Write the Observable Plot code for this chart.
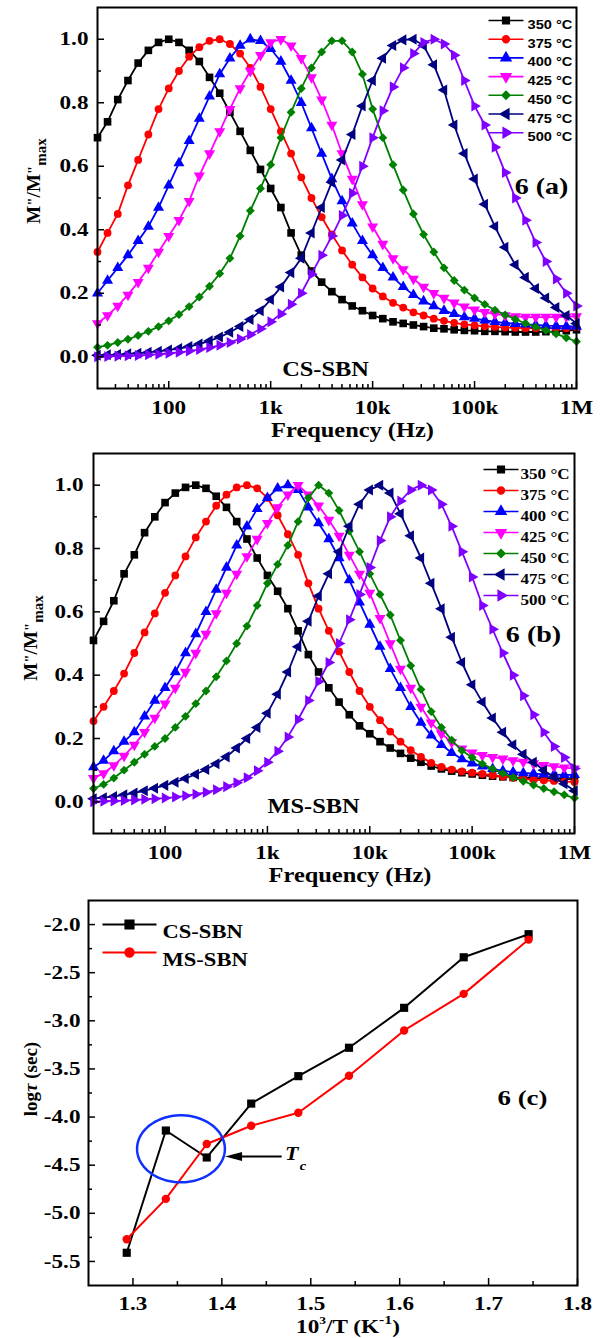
<!DOCTYPE html>
<html><head><meta charset="utf-8">
<script src="https://cdn.jsdelivr.net/npm/d3@7"></script>
<script src="https://cdn.jsdelivr.net/npm/@observablehq/plot@0.6"></script>
<style>
body{margin:0;background:#fff;}
#wrap{position:relative;width:601px;height:1338px;overflow:hidden;background:#fff;}
#wrap svg{position:absolute;left:0;}
</style></head><body><div id="wrap"></div>
<script>
// ---------- data ----------
const freqHz = [20,25.1,31.6,39.8,50.1,63.1,79.4,
  100,125.9,158.5,199.5,251.2,316.2,398.1,501.2,631,794.3,
  1000,1259,1585,1995,2512,3162,3981,5012,6310,7943,
  10000,12589,15849,19953,25119,31623,39811,50119,63096,79433,
  100000,125893,158489,199526,251189,316228,398107,501187,630957,794328,1000000];
const tempLabels = ["350 °C","375 °C","400 °C","425 °C","450 °C","475 °C","500 °C"];

// CS-SBN  M''/M''max  (panel a)
const cs350 = [0.69,0.74,0.81,0.87,0.925,0.965,0.99,1.0,0.99,0.965,0.93,0.88,0.83,0.77,0.71,0.65,0.59,0.53,0.47,0.39,0.32,0.27,0.235,0.205,0.18,0.16,0.145,0.13,0.12,0.11,0.105,0.1,0.095,0.09,0.088,0.085,0.083,0.082,0.08,0.08,0.079,0.078,0.078,0.078,0.079,0.08,0.082,0.085];
const cs375 = [0.33,0.39,0.45,0.54,0.62,0.70,0.78,0.845,0.9,0.945,0.975,0.995,1.0,0.985,0.955,0.91,0.85,0.78,0.71,0.64,0.565,0.5,0.44,0.385,0.335,0.29,0.25,0.215,0.19,0.17,0.155,0.14,0.13,0.12,0.113,0.107,0.102,0.099,0.096,0.094,0.092,0.091,0.09,0.09,0.09,0.09,0.09,0.092];
const cs400 = [0.20,0.24,0.28,0.32,0.365,0.41,0.47,0.54,0.61,0.68,0.75,0.82,0.89,0.94,0.98,1.0,0.995,0.97,0.93,0.87,0.80,0.72,0.64,0.56,0.49,0.42,0.365,0.32,0.28,0.25,0.22,0.195,0.175,0.16,0.145,0.135,0.125,0.12,0.115,0.11,0.107,0.104,0.102,0.1,0.098,0.097,0.096,0.095];
const cs425 = [0.105,0.13,0.16,0.195,0.235,0.28,0.33,0.38,0.43,0.49,0.57,0.64,0.71,0.78,0.845,0.9,0.95,0.99,1.0,0.98,0.94,0.88,0.81,0.73,0.64,0.56,0.48,0.41,0.355,0.31,0.275,0.245,0.22,0.2,0.185,0.17,0.158,0.148,0.14,0.135,0.13,0.127,0.125,0.125,0.125,0.125,0.126,0.127];
const cs450 = [0.03,0.036,0.045,0.055,0.067,0.08,0.095,0.113,0.133,0.158,0.188,0.222,0.262,0.31,0.38,0.46,0.53,0.605,0.69,0.77,0.845,0.91,0.96,0.995,0.995,0.96,0.89,0.78,0.69,0.605,0.525,0.45,0.385,0.33,0.28,0.24,0.21,0.185,0.165,0.147,0.132,0.118,0.105,0.094,0.083,0.072,0.06,0.048];
const cs475 = [0.005,0.006,0.007,0.009,0.011,0.014,0.017,0.021,0.026,0.032,0.04,0.05,0.062,0.077,0.095,0.117,0.145,0.18,0.22,0.265,0.31,0.39,0.47,0.55,0.62,0.7,0.79,0.87,0.94,0.98,0.998,1.0,0.98,0.92,0.84,0.73,0.64,0.56,0.48,0.41,0.345,0.29,0.25,0.215,0.185,0.155,0.13,0.105];
const cs500 = [0.0,0.001,0.002,0.003,0.004,0.006,0.008,0.011,0.014,0.018,0.023,0.029,0.036,0.045,0.056,0.07,0.088,0.11,0.135,0.165,0.2,0.26,0.32,0.38,0.445,0.515,0.6,0.69,0.775,0.85,0.91,0.955,0.99,1.0,0.985,0.95,0.87,0.79,0.73,0.66,0.58,0.5,0.43,0.36,0.3,0.245,0.2,0.16];

// MS-SBN  M''/M''max  (panel b)
const ms350 = [0.51,0.57,0.635,0.72,0.78,0.85,0.9,0.945,0.975,0.993,1.0,0.99,0.965,0.93,0.885,0.83,0.77,0.715,0.665,0.61,0.54,0.465,0.41,0.36,0.315,0.275,0.24,0.215,0.19,0.17,0.153,0.138,0.125,0.113,0.104,0.097,0.092,0.088,0.084,0.081,0.079,0.077,0.076,0.075,0.074,0.073,0.072,0.072];
const ms375 = [0.255,0.3,0.35,0.405,0.47,0.535,0.595,0.66,0.715,0.775,0.835,0.885,0.935,0.97,0.993,1.0,0.99,0.96,0.905,0.845,0.78,0.69,0.61,0.54,0.475,0.41,0.35,0.3,0.258,0.222,0.19,0.163,0.142,0.123,0.11,0.102,0.096,0.092,0.088,0.084,0.08,0.076,0.072,0.07,0.068,0.066,0.064,0.063];
const ms400 = [0.11,0.13,0.16,0.19,0.22,0.27,0.32,0.36,0.41,0.47,0.53,0.6,0.67,0.74,0.81,0.87,0.925,0.96,0.99,1.0,0.985,0.93,0.88,0.83,0.77,0.7,0.63,0.56,0.49,0.42,0.36,0.3,0.25,0.21,0.18,0.155,0.135,0.122,0.112,0.104,0.098,0.094,0.091,0.089,0.087,0.086,0.085,0.085];
const ms425 = [0.075,0.09,0.115,0.145,0.18,0.22,0.265,0.31,0.36,0.41,0.47,0.53,0.595,0.66,0.72,0.775,0.83,0.88,0.93,0.97,1.0,0.97,0.935,0.89,0.84,0.78,0.72,0.66,0.58,0.5,0.42,0.36,0.3,0.25,0.215,0.188,0.168,0.155,0.147,0.141,0.136,0.131,0.126,0.121,0.116,0.112,0.108,0.105];
const ms450 = [0.042,0.055,0.075,0.1,0.125,0.15,0.175,0.2,0.235,0.27,0.31,0.35,0.395,0.445,0.5,0.555,0.62,0.69,0.75,0.81,0.885,0.96,1.0,0.975,0.92,0.855,0.79,0.72,0.655,0.59,0.51,0.43,0.355,0.285,0.235,0.195,0.162,0.14,0.12,0.104,0.09,0.077,0.065,0.053,0.042,0.032,0.022,0.012];
const ms475 = [0.01,0.013,0.017,0.022,0.028,0.035,0.043,0.052,0.062,0.074,0.087,0.102,0.12,0.142,0.17,0.2,0.235,0.28,0.34,0.41,0.49,0.57,0.65,0.72,0.79,0.87,0.94,0.985,1.0,0.975,0.91,0.84,0.77,0.69,0.61,0.52,0.44,0.37,0.315,0.265,0.22,0.18,0.15,0.125,0.1,0.078,0.057,0.035];
const ms500 = [0.0,0.002,0.003,0.004,0.006,0.008,0.01,0.012,0.015,0.019,0.024,0.03,0.038,0.048,0.06,0.076,0.098,0.125,0.16,0.205,0.26,0.32,0.38,0.44,0.5,0.575,0.655,0.74,0.825,0.9,0.95,0.985,1.0,0.985,0.94,0.87,0.79,0.71,0.62,0.545,0.47,0.4,0.335,0.275,0.22,0.175,0.14,0.105];

// panel c: log(tau) vs 1000/T
const invT = [1.293,1.337,1.383,1.433,1.486,1.543,1.605,1.672,1.745];
const csLogTau = [-5.41,-4.14,-4.42,-3.86,-3.575,-3.28,-2.865,-2.34,-2.10];
const msLogTau = [-5.27,-4.85,-4.28,-4.09,-3.955,-3.57,-3.10,-2.72,-2.156];
const sampleNames = ["CS-SBN","MS-SBN"];

// tick values / labels
const freqMajor = [100,1000,10000,100000,1000000];
const freqLabels = ["100","1k","10k","100k","1M"];
const freqMinor = [10,100,1000,10000,100000].flatMap(d => [2,3,4,5,6,7,8,9].map(m => m*d)).filter(v => v > 20);
const mMajor = [0,0.2,0.4,0.6,0.8,1.0];
const mMinor = [0.1,0.3,0.5,0.7,0.9];
const cxMajor = [1.3,1.4,1.5,1.6,1.7,1.8];
const cxMinor = [1.35,1.45,1.55,1.65,1.75];
const cyMajor = [-2,-2.5,-3,-3.5,-4,-4.5,-5,-5.5];
const cyMinor = [-2.25,-2.75,-3.25,-3.75,-4.25,-4.75,-5.25];

// ---------- styles ----------
const serif = "'Liberation Serif','Times New Roman',serif";
const sans = "'Liberation Sans',Arial,sans-serif";
const STRETCH = 1.22;
const colors = ["#000000","#ff0000","#0000ff","#ff00ff","#008000","#000080","#8000ff"];
const sq3 = Math.sqrt(3);
function tri(dir) {
  return {draw(ctx, size) {
    const y = -Math.sqrt(size / (sq3 * 3));
    const pts = [[0, y * 2], [-sq3 * y, -y], [sq3 * y, -y]];
    const t = {up: ([a, b]) => [a, b], down: ([a, b]) => [a, -b], left: ([a, b]) => [b, a], right: ([a, b]) => [-b, a]}[dir];
    const p = pts.map(t);
    ctx.moveTo(p[0][0], p[0][1]); ctx.lineTo(p[1][0], p[1][1]); ctx.lineTo(p[2][0], p[2][1]); ctx.closePath();
  }};
}
const symbols = [d3.symbolSquare, d3.symbolCircle, tri("up"), tri("down"), d3.symbolDiamond2, tri("left"), tri("right")];
const markerR = [4.3, 3.9, 4.1, 4.1, 4.0, 4.1, 4.1];
const legendR = [3.7, 3.4, 3.6, 3.6, 3.5, 3.6, 3.6];
function withLine(sym, half) {
  return {draw(ctx, size) { ctx.moveTo(-half, 0); ctx.lineTo(half, 0); sym.draw(ctx, size); }};
}
const boldSerif = (size) => ({fontSize: size, fontWeight: "bold", fontFamily: serif, fill: "black"});

function spectrumPanel(cfg) {
  const marks = [];
  cfg.series.forEach((vals, k) => {
    const data = freqHz.map((f, i) => ({f, v: vals[i]}));
    marks.push(Plot.line(data, {x: "f", y: "v", stroke: colors[k], strokeWidth: 1.8}));
    marks.push(Plot.dot(data, {x: "f", y: "v", symbol: symbols[k], r: markerR[k], fill: colors[k], stroke: "none"}));
  });
  marks.push(Plot.axisX(freqMajor, {tickSize: -7, tickPadding: 19, strokeWidth: 1.5, tickFormat: d => freqLabels[freqMajor.indexOf(d)], ...boldSerif(19), label: null}));
  marks.push(Plot.axisX(freqMinor, {tickSize: -4, strokeWidth: 1.5, fill: "none", label: null}));
  marks.push(Plot.axisY(mMajor, {tickSize: -7, tickPadding: cfg.yPad, strokeWidth: 1.5, tickFormat: d => d.toFixed(1), ...boldSerif(19), label: null}));
  marks.push(Plot.axisY(mMinor, {tickSize: -4, strokeWidth: 1.5, fill: "none", label: null}));
  marks.push(Plot.frame({stroke: "black", strokeWidth: 2}));
  tempLabels.forEach((t, k) => {
    const dy = cfg.legDy0 + k * cfg.legStep;
    marks.push(Plot.dot([t], {frameAnchor: "top-right", dx: cfg.legDx, dy, symbol: withLine(symbols[k], 17.5), r: legendR[k], fill: colors[k], stroke: colors[k], strokeWidth: 1.6}));
    marks.push(Plot.text([t], {frameAnchor: "top-right", dx: cfg.legTextDx, dy, text: d => d, textAnchor: "start", fontSize: cfg.legSize, fontWeight: "bold", fontFamily: cfg.legFont, fill: "black"}));
  });
  marks.push(Plot.text([cfg.tag], {frameAnchor: "top-right", dx: cfg.tagDx, dy: cfg.tagDy, text: d => d, textAnchor: "middle", ...boldSerif(23)}));
  marks.push(Plot.text([cfg.sample], {frameAnchor: "top-left", dx: cfg.sampleDx, dy: cfg.sampleDy, text: d => d, textAnchor: "middle", ...boldSerif(20)}));
  marks.push(Plot.text(["Frequency (Hz)"], {frameAnchor: "bottom", dx: cfg.xtDx, dy: cfg.xtDy, text: d => d, textAnchor: "middle", ...boldSerif(20)}));
  return Plot.plot({
    width: 601, height: cfg.height,
    marginTop: cfg.mt, marginBottom: cfg.mb, marginLeft: cfg.ml, marginRight: cfg.mr,
    x: {type: "log", domain: [20, 1e6], axis: null},
    y: {domain: [-0.1, 1.1], axis: null},
    style: {background: "transparent", overflow: "visible", fontFamily: serif},
    marks
  });
}

function addText(svg, {x, y, rotate = 0, anchor = "middle", size, parts}) {
  const t = d3.select(svg).append("text")
    .attr("transform", `translate(${x},${y})` + (rotate ? ` rotate(${rotate})` : ""))
    .attr("text-anchor", anchor).attr("dominant-baseline", "central")
    .attr("font-family", serif).attr("font-weight", "bold").attr("font-size", size).attr("fill", "black");
  parts.forEach(p => {
    const s = t.append("tspan").text(p.text);
    if (p.size) s.attr("font-size", p.size);
    if (p.shift) s.attr("baseline-shift", p.shift);
    if (p.italic) s.attr("font-style", "italic");
  });
}

function stretchTexts(svg) {
  svg.querySelectorAll("text").forEach(t => {
    let tr = t.getAttribute("transform") || "";
    if (tr.includes("rotate")) return;
    if (!tr) {
      const x = +(t.getAttribute("x") || 0), y = +(t.getAttribute("y") || 0);
      t.removeAttribute("x"); t.removeAttribute("y");
      tr = `translate(${x},${y})`;
    }
    t.setAttribute("transform", `${tr} scale(${STRETCH},1)`);
  });
}

const wrap = document.getElementById("wrap");

// ---------- panel (a) ----------
const chartA = spectrumPanel({
  series: [cs350, cs375, cs400, cs425, cs450, cs475, cs500],
  height: 448, mt: 7, mb: 60, ml: 97, mr: 25, yPad: 16,
  legDx: -70.5, legTextDx: -49, legDy0: 13, legStep: 18.7, legSize: 12, legFont: sans,
  tag: "6 (a)", tagDx: -35, tagDy: 170,
  sample: sampleNames[0], sampleDx: 228, sampleDy: 354,
  xtDx: 15.5, xtDy: 48
});
chartA.style.top = "0px";
wrap.appendChild(chartA);
addText(chartA, {x: 33, y: 181, rotate: -90, size: 19, parts: [
  {text: "M"}, {text: "\"", size: 15}, {text: "/M"}, {text: "\"", size: 15}, {text: "max", size: 15, shift: "sub"}]});

// ---------- panel (b) ----------
const chartB = spectrumPanel({
  series: [ms350, ms375, ms400, ms425, ms450, ms475, ms500],
  height: 445, mt: 13, mb: 52, ml: 93, mr: 27, yPad: 17,
  legDx: -73.5, legTextDx: -54, legDy0: 16, legStep: 21, legSize: 14, legFont: serif,
  tag: "6 (b)", tagDx: -41, tagDy: 172,
  sample: sampleNames[1], sampleDx: 220, sampleDy: 345,
  xtDx: 16, xtDy: 48
});
chartB.style.top = "440px";
wrap.appendChild(chartB);
addText(chartB, {x: 30, y: 198, rotate: -90, size: 19, parts: [
  {text: "M"}, {text: "\"", size: 15}, {text: "/M"}, {text: "\"", size: 15}, {text: "max", size: 15, shift: "sub"}]});

// ---------- panel (c) ----------
const csData = invT.map((t, i) => ({t, v: csLogTau[i]}));
const msData = invT.map((t, i) => ({t, v: msLogTau[i]}));
const tcEllipse = {cx: 1.354, cy: -4.33, rx: 0.0494, ry: 0.348};
const ellipsePts = d3.range(0, 361, 4).map(a => ({
  x: tcEllipse.cx + tcEllipse.rx * Math.cos(a * Math.PI / 180),
  y: tcEllipse.cy + tcEllipse.ry * Math.sin(a * Math.PI / 180)}));
const tcArrow = {tail: 1.4678, tip: 1.4036, y: -4.41};
const arrowHead = {draw(ctx) { ctx.moveTo(0, 0); ctx.lineTo(17, -4.5); ctx.lineTo(17, 4.5); ctx.closePath(); }};

const chartC = Plot.plot({
  width: 601, height: 458, marginTop: 20, marginBottom: 53, marginLeft: 88, marginRight: 24,
  x: {domain: [1.25, 1.8], axis: null},
  y: {domain: [-5.75, -1.75], axis: null},
  style: {background: "transparent", overflow: "visible", fontFamily: serif},
  marks: [
    Plot.line(csData, {x: "t", y: "v", stroke: "black", strokeWidth: 2}),
    Plot.dot(csData, {x: "t", y: "v", symbol: d3.symbolSquare, r: 4.6, fill: "black", stroke: "none"}),
    Plot.line(msData, {x: "t", y: "v", stroke: "#ff0000", strokeWidth: 2}),
    Plot.dot(msData, {x: "t", y: "v", symbol: d3.symbolCircle, r: 4.2, fill: "#ff0000", stroke: "none"}),
    Plot.line(ellipsePts, {x: "x", y: "y", stroke: "#1030ff", strokeWidth: 2.5}),
    Plot.ruleY([tcArrow.y], {x1: tcArrow.tail, x2: tcArrow.tip + 0.012, stroke: "black", strokeWidth: 2}),
    Plot.dot([tcArrow], {x: "tip", y: "y", symbol: arrowHead, fill: "black", stroke: "none"}),
    Plot.text(["T"], {x: 1.471, y: -4.385, text: d => d, textAnchor: "start", fontStyle: "italic", ...boldSerif(18)}),
    Plot.text(["c"], {x: 1.4875, y: -4.515, text: d => d, textAnchor: "start", fontStyle: "italic", ...boldSerif(12)}),
    Plot.axisX(cxMajor, {tickSize: -7, tickPadding: 18, strokeWidth: 1.5, tickFormat: d => d.toFixed(1), ...boldSerif(19), label: null}),
    Plot.axisX(cxMinor, {tickSize: -4, strokeWidth: 1.5, fill: "none", label: null}),
    Plot.axisY(cyMajor, {tickSize: -7, tickPadding: 15, strokeWidth: 1.5, tickFormat: d => d.toFixed(1), ...boldSerif(19), label: null}),
    Plot.axisY(cyMinor, {tickSize: -4, strokeWidth: 1.5, fill: "none", label: null}),
    Plot.frame({stroke: "black", strokeWidth: 2}),
    Plot.dot([sampleNames[0]], {frameAnchor: "top-left", dx: 41, dy: 24, symbol: withLine(d3.symbolSquare, 27), r: 4.6, fill: "black", stroke: "black", strokeWidth: 2}),
    Plot.dot([sampleNames[1]], {frameAnchor: "top-left", dx: 41, dy: 52, symbol: withLine(d3.symbolCircle, 27), r: 4.2, fill: "#ff0000", stroke: "#ff0000", strokeWidth: 2}),
    Plot.text([sampleNames[0]], {frameAnchor: "top-left", dx: 74, dy: 24, text: d => d, textAnchor: "start", ...boldSerif(18.5)}),
    Plot.text([sampleNames[1]], {frameAnchor: "top-left", dx: 74, dy: 52, text: d => d, textAnchor: "start", ...boldSerif(18.5)}),
    Plot.text(["6 (c)"], {frameAnchor: "top-right", dx: -55, dy: 189, text: d => d, textAnchor: "middle", ...boldSerif(22)})
  ]
});
chartC.style.top = "880px";
wrap.appendChild(chartC);
addText(chartC, {x: 30, y: 199, rotate: -90, size: 19, parts: [
  {text: "log"}, {text: "τ", italic: true}, {text: " (sec)"}]});
addText(chartC, {x: 348, y: 447, size: 19, parts: [
  {text: "10"}, {text: "3", size: 11, shift: "super"}, {text: "/T (K"}, {text: "-1", size: 13, shift: "super"}, {text: ")"}]});

[chartA, chartB, chartC].forEach(stretchTexts);
</script>
</body></html>
